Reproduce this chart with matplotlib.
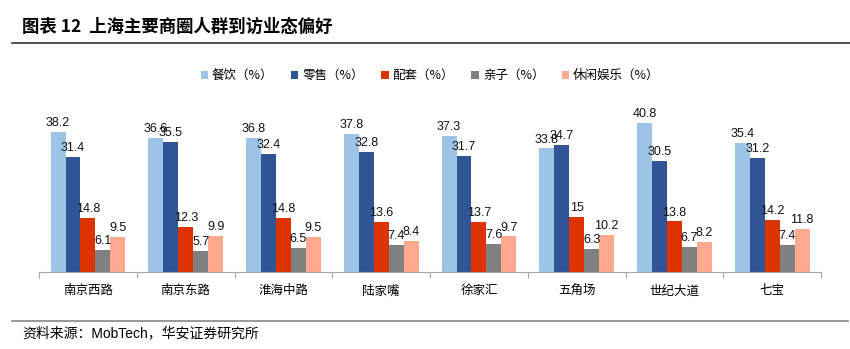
import matplotlib.pyplot as plt
import numpy as np

plt.rcParams['font.family'] = ['Liberation Sans', 'Noto Sans CJK SC', 'DejaVu Sans']

districts = ['南京西路', '南京东路', '淮海中路', '陆家嘴', '徐家汇', '五角场', '世纪大道', '七宝']
series_names = ['餐饮（%）', '零售（%）', '配套（%）', '亲子（%）', '休闲娱乐（%）']
dining = [38.2, 36.6, 36.8, 37.8, 37.3, 33.8, 40.8, 35.4]
retail = [31.4, 35.5, 32.4, 32.8, 31.7, 34.7, 30.5, 31.2]
support = [14.8, 12.3, 14.8, 13.6, 13.7, 15, 13.8, 14.2]
kids = [6.1, 5.7, 6.5, 7.4, 7.6, 6.3, 6.7, 7.4]
leisure = [9.5, 9.9, 9.5, 8.4, 9.7, 10.2, 8.2, 11.8]
colors = ['#9DC3E6', '#2F5597', '#DD3300', '#808080', '#FFA98F']

fig = plt.figure(figsize=(8.5, 3.49), dpi=100)
ax = fig.add_axes([0.046, 0.221, 0.92, 0.523])

x = np.arange(len(districts))
w = 0.153
all_series = [dining, retail, support, kids, leisure]
for i, (vals, name, c) in enumerate(zip(all_series, series_names, colors)):
    pos = x + (i - 2) * w
    bars = ax.bar(pos, vals, w, color=c, label=name)
    for b, v in zip(bars, vals):
        ax.text(b.get_x() + b.get_width() / 2, v + 0.8, f'{v:g}',
                ha='center', va='bottom', fontsize=9, color='#111111')

ax.set_xlim(-0.5, len(districts) - 0.5)
ax.set_ylim(0, 50)
ax.set_yticks([])
for s in ['top', 'right', 'left']:
    ax.spines[s].set_visible(False)
ax.spines['bottom'].set_color('#A6A6A6')
ax.set_xticks(np.arange(len(districts) + 1) - 0.5, minor=False)
ax.set_xticklabels([])
ax.tick_params(axis='x', length=4, color='#A6A6A6')
ax.set_xticks(x, minor=True)
ax.set_xticklabels(districts, minor=True, fontsize=9, family=['Noto Sans CJK SC'])
ax.tick_params(axis='x', which='minor', length=0, pad=9)

ax.legend(loc='center', bbox_to_anchor=(0.5, 1.075), ncol=5, frameon=False,
          handlelength=0.6, handleheight=0.6, columnspacing=1.4,
          handletextpad=0.3, prop={'family': ['Noto Sans CJK SC'], 'size': 9})

fig.text(0.026, 0.922, '图表 12  上海主要商圈人群到访业态偏好', fontsize=12.5,
         fontweight='bold', va='center', family=['Noto Sans CJK SC'])
fig.add_artist(plt.Line2D([0.014, 1.0], [0.877, 0.877], color='#333333', lw=1.2))
fig.add_artist(plt.Line2D([0.014, 0.998], [0.08, 0.08], color='#888888', lw=1.2))
fig.text(0.026, 0.045, '资料来源：MobTech，华安证券研究所', fontsize=10, va='center',
         family=['Liberation Sans', 'Noto Sans CJK SC'])

fig.savefig('out.png', dpi=100)
